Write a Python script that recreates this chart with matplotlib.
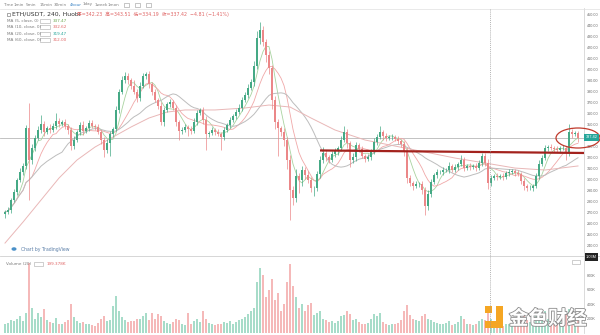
### ETH/USDT 240 candles with MAs and volume, TradingView style screenshot
import numpy as np
import pandas as pd
import matplotlib
matplotlib.use("Agg")
import matplotlib.pyplot as plt
from matplotlib.patches import Ellipse, Rectangle
import matplotlib.patheffects as pe

plt.rcParams["font.family"] = ["DejaVu Sans", "Noto Sans CJK SC"]

# ---- data ----
first_open = 268.0
closes = [
    270.1, 271.9, 281.0, 288.3, 299.2, 306.5, 312.0, 346.5, 317.4, 328.3,
    337.4, 344.7, 350.1, 342.9, 346.5, 344.7, 348.3, 352.9, 350.1, 351.9,
    348.3, 344.7, 330.1, 335.6, 342.9, 349.2, 343.8, 346.5, 351.0, 348.3,
    347.4, 342.9, 335.6, 326.5, 332.9, 341.0, 345.6, 362.9, 379.2, 390.1,
    393.8, 390.1, 384.7, 379.2, 373.8, 384.7, 393.8, 395.6, 386.5, 379.2,
    371.9, 366.5, 352.0, 362.9, 368.3, 370.1, 364.7, 352.0, 343.8, 344.7,
    347.4, 345.6, 343.8, 352.0, 360.1, 362.9, 353.8, 341.0, 341.9, 344.7,
    342.9, 341.0, 338.3, 344.7, 349.2, 353.8, 357.4, 361.0, 364.7, 371.9,
    376.5, 382.9, 388.3, 402.8, 428.3, 435.6, 424.7, 412.9, 401.0, 371.9,
    352.0, 346.5, 342.9, 335.6, 317.4, 290.1, 282.8, 302.9, 299.2, 308.3,
    303.8, 299.2, 292.0, 292.0, 304.7, 317.4, 323.8, 320.1, 317.4, 322.9,
    325.6, 328.3, 335.6, 342.9, 332.9, 317.4, 320.1, 331.0, 327.4, 321.0,
    318.3, 320.1, 324.7, 333.8, 338.3, 342.9, 339.2, 337.4, 338.3, 338.3,
    336.5, 334.7, 332.0, 324.7, 301.1, 296.5, 293.8, 295.6, 295.6, 290.1,
    275.6, 286.5, 297.4, 303.8, 306.5, 306.5, 308.3, 308.3, 312.0, 308.3,
    311.0, 313.8, 317.4, 310.1, 312.0, 311.0, 312.0, 310.1, 314.7, 321.0,
    314.7, 296.5, 301.1, 302.9, 302.0, 302.9, 302.0, 305.6, 306.5, 307.4,
    305.6, 304.7, 298.3, 293.8, 292.0, 292.0, 293.8, 302.9, 313.8, 319.2,
    328.3, 329.2, 328.3, 327.4, 326.5, 328.3, 328.3, 323.8, 342.9, 341.0,
    342.23, 337.42]

# wick length above max(open, close) and below min(open, close)
upper_wick = [
    2, 3, 2, 3, 2, 4, 3, 3, 22.7, 4,
    3, 4, 8, 3, 2, 4, 3, 7, 3, 2,
    3, 2, 3, 4, 2, 3, 4, 2, 3, 3,
    2, 3, 2, 3, 4, 3, 2, 4, 3, 4,
    4, 3, 2, 5, 3, 4, 3, 2, 3, 2,
    3, 2, 4, 3, 2, 3, 2, 3, 2, 3,
    3, 2, 3, 4, 3, 2, 3, 4, 2, 3,
    2, 3, 2, 3, 2, 3, 2, 3, 4, 3,
    3, 4, 3, 5, 6, 7.3, 4, 3, 4, 3,
    4, 3, 2, 4, 3, 5, 4, 6, 3, 4,
    3, 4, 3, 2, 3, 4, 5, 3, 2, 3,
    3, 2, 4, 5, 3, 2, 4, 3, 2, 3,
    2, 3, 3, 4, 3, 5, 2, 3, 2, 3,
    2, 3, 2, 3, 4, 3, 2, 3, 2, 3,
    3, 4, 3, 2, 3, 2, 3, 2, 4, 2,
    3, 2, 4.5, 3, 2, 3, 2, 3, 3, 2.8,
    3, 4, 3, 2, 3, 2, 3, 2, 3, 2,
    2, 3, 2, 3, 2, 3, 2, 3, 4, 3,
    3, 2, 3, 2, 3, 2, 3, 2, 7.2, 3,
    2, 1.28]
lower_wick = [
    3, 2, 3, 2, 3, 2, 3, 3, 36.4, 4,
    3, 2, 3, 4, 2, 3, 2, 3, 3, 2,
    3, 4, 4, 3, 2, 3, 4, 2, 3, 2,
    3, 2, 4, 6, 3, 12, 3, 2, 3, 2,
    3, 4, 3, 2, 4, 3, 2, 3, 4, 3,
    2, 3, 3, 4, 2, 3, 2, 4, 8, 3,
    2, 6, 3, 2, 3, 2, 4, 14.5, 3, 2,
    3, 2, 11.8, 3, 2, 3, 2, 3, 2, 3,
    2, 3, 2, 4, 3, 5, 4, 6, 5, 8,
    6, 25, 4, 5, 8, 27.3, 6, 4, 12, 5,
    4, 3, 4, 7, 3, 4, 3, 4, 3, 2,
    3, 4, 3, 2, 5, 6, 3, 4, 3, 2,
    3, 2, 3, 2, 3, 2, 4, 3, 2, 3,
    2, 3, 3, 4, 5, 3, 4, 2, 3, 4,
    8.2, 4, 3, 2, 3, 2, 3, 2, 3, 2,
    2, 3, 2, 3, 2, 3, 2, 3, 2, 3,
    3, 5, 3, 2, 3, 2, 3, 2, 3, 2,
    3, 2, 3, 4, 3, 2, 3, 2, 3, 2,
    2, 3, 2, 3, 2, 3, 2, 6.4, 3, 4,
    2, 3.23]

# volume in K
volume = [
    120, 140, 180, 160, 200, 240, 170, 280, 966, 345,
    200, 276, 220, 330, 180, 150, 140, 210, 120, 130,
    150, 180, 400, 220, 160, 140, 150, 120, 130, 110,
    100, 140, 190, 230, 160, 180, 373, 510, 300, 220,
    180, 150, 160, 170, 190, 200, 230, 276, 180, 276,
    200, 262, 230, 160, 140, 130, 150, 193, 180, 120,
    110, 276, 130, 160, 190, 150, 300, 200, 140, 120,
    110, 130, 120, 150, 140, 160, 130, 150, 180, 200,
    220, 260, 300, 350, 700, 900, 800, 500, 600, 750,
    450, 550, 300, 400, 700, 950, 650, 500, 350, 400,
    300, 380, 420, 250, 280, 300, 200, 180, 150, 160,
    140, 170, 230, 250, 300, 260, 180, 200, 150, 130,
    120, 140, 200, 260, 230, 280, 150, 120, 110, 130,
    120, 140, 180, 300, 380, 250, 200, 180, 160, 230,
    260, 200, 180, 150, 140, 130, 120, 140, 170, 110,
    120, 150, 230, 200, 130, 120, 110, 130, 160, 200,
    180, 280, 200, 140, 120, 110, 100, 120, 130, 110,
    100, 120, 200, 230, 180, 150, 160, 280, 260, 220,
    300, 200, 160, 150, 140, 170, 150, 260, 330, 200,
    150, 199.378]

# slow MA(60) (history before the window is lower)
ma60_idx = [0, 6, 12, 18, 24, 30, 36, 42, 48, 54, 60, 70, 80, 88, 95,
            102, 110, 120, 130, 140, 150, 160, 170, 180, 191]
ma60_val = [241.9, 261.0, 281.0, 301.0, 317.4, 329.2, 338.3, 347.4, 355.6,
            361.0, 362.9, 362.9, 364.7, 367.4, 365.6, 355.6, 344.7, 335.6,
            330.1, 324.7, 319.2, 314.7, 310.1, 308.3, 312.0]

# hand drawn resistance line
level_x = [105, 193]
level_y = [326.1, 323.8]

ohlc_text = "开=342.23  高=343.51  低=334.19  收=337.42  −4.81 (−1.41%)"
toolbar = ["Time", "1min", "5min", "15min", "30min", "4hour", "1day", "1week", "1mon"]
price_ticks = [240, 250, 260, 270, 280, 290, 300, 310, 320, 330,
               350, 360, 370, 380, 390, 400, 410, 420, 430, 440, 450]
vol_ticks = [200, 400, 600, 800]
vol_tick_labels = ["200K", "400K", "600K", "800K"]

# ---- derived ----
n = len(closes)
idx = np.arange(n)
closes = np.array(closes)
opens = np.array([first_open] + list(closes[:-1]))
highs = np.maximum(opens, closes) + np.array(upper_wick)
lows = np.minimum(opens, closes) - np.array(lower_wick)
is_up = closes >= opens

s = pd.Series(closes)
ma5 = s.rolling(5, min_periods=1).mean()
ma10 = s.rolling(10, min_periods=1).mean()
ma20 = s.rolling(20, min_periods=1).mean()

GREEN = "#45a985"
RED = "#eb8788"
cols = np.where(is_up, GREEN, RED)
vcols = np.where(is_up, "#a7dcc9", "#f5b9b9")
AXFONT = "Liberation Sans"

W, H = 600, 335
fig = plt.figure(figsize=(6, 3.35), dpi=100)
fig.patch.set_facecolor("white")

def px_axes(x0, y0, x1, y1):
    return fig.add_axes([x0 / W, 1 - y1 / H, (x1 - x0) / W, (y1 - y0) / H])

def style_right_axis(a):
    a.yaxis.tick_right()
    a.tick_params(axis="y", length=0, pad=2, labelsize=2.7, labelcolor="#666666")
    for lab in a.get_yticklabels():
        lab.set_family(AXFONT)
    a.set_xticks([])
    for sp in ["top", "left", "bottom"]:
        a.spines[sp].set_visible(False)
    a.spines["right"].set_color("#cccccc")
    a.spines["right"].set_linewidth(0.5)

# ---- price pane ----
ax = px_axes(0, 8, 584, 255)
ax.set_xlim(-5 / 3, 579 / 3)
ax.set_ylim(337.42 - 117 / 1.1, 337.42 + 130 / 1.1)

ax.axhline(closes[-1], color="#b8b8b8", lw=0.6, zorder=1)
ax.plot(idx, ma5, color="#a9d3a0", lw=0.6, zorder=2)
ax.plot(idx, ma10, color="#f0a8a8", lw=0.6, zorder=2)
ax.plot(idx, ma20, color="#bdbdbd", lw=0.7, zorder=2)
ax.plot(ma60_idx, ma60_val, color="#e9b7b7", lw=0.7, zorder=2)

ax.vlines(idx, lows, highs, colors=cols, lw=0.5, zorder=3)
body = np.maximum(np.abs(closes - opens), 0.4)
ax.bar(idx, body, bottom=np.minimum(opens, closes), width=0.62, color=cols, lw=0, zorder=4)

ax.plot(level_x, level_y, color="#a3221d", lw=1.6, zorder=5, solid_capstyle="butt")

ax.set_yticks(price_ticks)
ax.set_yticklabels([f"{v:.2f}" for v in price_ticks])
style_right_axis(ax)

# ---- volume pane ----
axv = px_axes(0, 257, 584, 333)
axv.set_xlim(-5 / 3, 579 / 3)
axv.set_ylim(0, 1050)
axv.bar(idx, volume, width=0.65, color=vcols, lw=0)
axv.set_yticks(vol_ticks)
axv.set_yticklabels(vol_tick_labels)
style_right_axis(axv)

# ---- overlay in pixel coords for the chrome ----
ov = fig.add_axes([0, 0, 1, 1], zorder=10)
ov.set_xlim(0, W)
ov.set_ylim(H, 0)
ov.axis("off")
ov.patch.set_alpha(0)

ov.plot([0, 600], [9, 9], color="#e0e0e0", lw=0.5)
ov.plot([0, 600], [255.5, 255.5], color="#d0d0d0", lw=0.6)
ov.plot([490, 490], [9, 335], color="#9a9a9a", lw=0.5, ls=(0, (1.5, 1.5)))

# toolbar
tb_x = [3, 14, 26, 40, 54, 70, 83, 95, 108]
for x, t in zip(tb_x, toolbar):
    ov.text(x, 4.5, t, fontsize=3, color="#3d85c6" if t == "4hour" else "#808080", va="center")
for x in [124, 135, 146]:
    ov.add_patch(Rectangle((x, 2.5), 4.5, 4, fill=False, ec="#999999", lw=0.4))

# legend
ov.add_patch(Rectangle((6.5, 12.5), 3.5, 3.5, fill=False, ec="#666666", lw=0.4))
ov.text(12, 14.5, "ETH/USDT, 240, Huobi", fontsize=4.4, color="#333333", va="center")
ov.text(77, 14.5, ohlc_text, fontsize=3.4, color="#e06666", va="center")

ma_rows = [("MA (5, close, 0)", ma5.iloc[-1], "#6aa84f"),
           ("MA (10, close, 0)", ma10.iloc[-1], "#e06666"),
           ("MA (20, close, 0)", ma20.iloc[-1], "#26a69a"),
           ("MA (60, close, 0)", ma60_val[-1], "#e06666")]
for k, (lab, val, c) in enumerate(ma_rows):
    y = 21 + k * 6.3
    ov.text(7, y, lab, fontsize=3, color="#7a7a7a", va="center")
    ov.add_patch(Rectangle((40, y - 2), 10, 4, fill=False, ec="#aaaaaa", lw=0.4))
    ov.text(53, y, f"{val:.2f}", fontsize=3, color=c, va="center")

# price labels on the axis
ov.text(591.5, 137.5, f"{closes[-1]:.2f}", fontsize=2.8, family=AXFONT, color="white",
        ha="center", va="center", bbox=dict(boxstyle="square,pad=0.4", fc="#26a69a", ec="none"))
ov.text(591.5, 257, "1.03M", fontsize=2.8, family=AXFONT, color="white", ha="center", va="center",
        bbox=dict(boxstyle="square,pad=0.4", fc="#222222", ec="none"))
ov.add_patch(Ellipse((578, 138), 44, 20, fill=False, ec="#c0392b", lw=0.9))

# tradingview credit
ov.add_patch(Ellipse((14, 249), 5, 3.5, fc="#4a90c8", ec="none"))
ov.text(21, 249, "Chart by TradingView", fontsize=3.3, color="#5b7fa8", va="center")

# volume legend
ov.text(6, 264, "Volume (20)", fontsize=3, color="#7a7a7a", va="center")
ov.add_patch(Rectangle((34, 262), 9, 4, fill=False, ec="#aaaaaa", lw=0.4))
ov.text(47, 264, "199.378K", fontsize=3, color="#e06666", va="center")
ov.add_patch(Rectangle((572, 260), 8, 4, fill=False, ec="#aaaaaa", lw=0.4))

# watermark
ov.add_patch(Rectangle((496, 306), 7, 22, fc="#f5a623", ec="none"))
ov.add_patch(Rectangle((485, 321), 18, 7, fc="#f5a623", ec="none"))
ov.add_patch(Rectangle((485, 306), 7, 7, fc="#f5a623", ec="none"))
ov.text(548, 319, "金色财经", fontsize=14, color="white", ha="center", va="center",
        family=["Noto Sans CJK SC"], fontweight="bold",
        path_effects=[pe.withStroke(linewidth=1.2, foreground="#8c8c8c")])

fig.savefig("out.png", dpi=100)
